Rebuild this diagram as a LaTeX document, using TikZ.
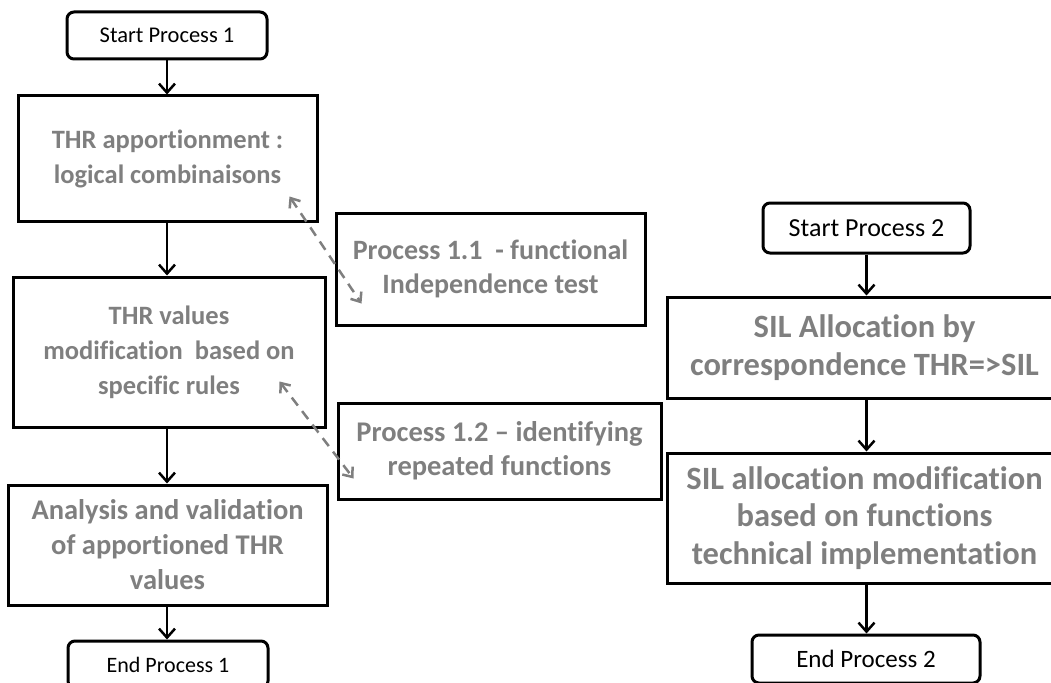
\documentclass[tikz,border=0pt]{standalone}
\usepackage{fontspec}
\setmainfont{Carlito}[Ligatures=NoCommon]
\usepackage{tikz}
\usepackage{xcolor}
\usetikzlibrary{shapes,arrows.meta,positioning,fit,calc}
\definecolor{boxgray}{HTML}{7F7F7F}
\newcommand{\fs}[1]{\fontsize{#1}{1.3\dimexpr#1pt\relax}\selectfont}

\begin{document}
\begin{tikzpicture}[x=1pt, y=-1pt,
        terminal/.style={draw, line width=3pt, rounded corners=7pt, align=center,
            font=\fs{22.5}, inner sep=0pt},
        stepbox/.style={draw, line width=3pt, align=center, text=boxgray,
            font=\fontsize{26.5}{35}\selectfont\bfseries, inner sep=0pt},
        bigbox/.style={stepbox, font=\fontsize{32.5}{37.5}\selectfont\bfseries},
        flow/.style={line width=2.5pt, -{Straight Barb[length=9pt, width=16pt, line width=2.5pt]}},
        link/.style={line width=2.5pt, boxgray, dash pattern=on 10pt off 7pt,
            {Straight Barb[length=8pt, width=13pt, line width=2.5pt]}-{Straight Barb[length=8pt, width=13pt, line width=2.5pt]}}]
            \useasboundingbox (0,0) rectangle (1051,682);
            \clip (0,0) rectangle (1051,682);
            \node (start1) at (167,35.5) [terminal, minimum width=200, minimum height=47] {Start Process 1};
            \node (apport) at (167.5,158.5) [stepbox, minimum width=299, minimum height=125] {THR apportionment :\\logical combinaisons};
            \node (modif) at (169,352) [stepbox, minimum width=312, minimum height=150] {THR values\\modification\ \ based on\\specific rules};
            \node (valid) at (167.5,545) [stepbox, minimum width=319, minimum height=120,
                font=\fontsize{28.5}{35}\selectfont\bfseries] {Analysis and validation\\of apportioned THR\\values};
            \node (end1) at (168,664.5) [terminal, minimum width=200, minimum height=47, font=\fs{22}] {End Process 1};
            \node (indep) at (490.5,269) [stepbox, minimum width=309, minimum height=112,
                font=\fontsize{28}{34}\selectfont\bfseries] {Process 1.1\ \ - functional\\Independence test};
            \node (repeat) at (499.5,451) [stepbox, minimum width=323, minimum height=96,
                font=\fontsize{28.5}{34}\selectfont\bfseries] {Process 1.2 – identifying\\repeated functions};
            \node (start2) at (866.5,228) [terminal, minimum width=207, minimum height=50, font=\fs{26}] {Start Process 2};
            \node (silcorr) at (864.5,347.5) [bigbox, minimum width=395, minimum height=101] {SIL Allocation by\\correspondence THR=>SIL};
            \node (silmod) at (864.5,518) [bigbox, minimum width=395, minimum height=130] {SIL allocation modification\\based on functions\\technical implementation};
            \node (end2) at (866,659) [terminal, minimum width=228, minimum height=48, font=\fs{25}] {End Process 2};
            \draw[flow] (start1.south) -- (start1.south |- apport.north);
            \draw[flow] (start1.south |- apport.south) -- (start1.south |- modif.north);
            \draw[flow] (start1.south |- modif.south) -- (start1.south |- valid.north);
            \draw[flow] (start1.south |- valid.south) -- (start1.south |- end1.north);
            \draw[flow] (start2.south) -- (start2.south |- silcorr.north);
            \draw[flow] (start2.south |- silcorr.south) -- (start2.south |- silmod.north);
            \draw[flow] (start2.south |- silmod.south) -- (start2.south |- end2.north);
            \coordinate (a1) at ([shift={(-29,-26)}]apport.south east);
            \coordinate (b1) at ([shift={(27,-23)}]indep.south west);
            \coordinate (a2) at ([shift={(-47,-47)}]modif.south east);
            \coordinate (b2) at ([shift={(17,-22)}]repeat.south west);
            \draw[link] (a1) -- (b1);
            \draw[link] (a2) -- (b2);
        \end{tikzpicture}
\end{document}
